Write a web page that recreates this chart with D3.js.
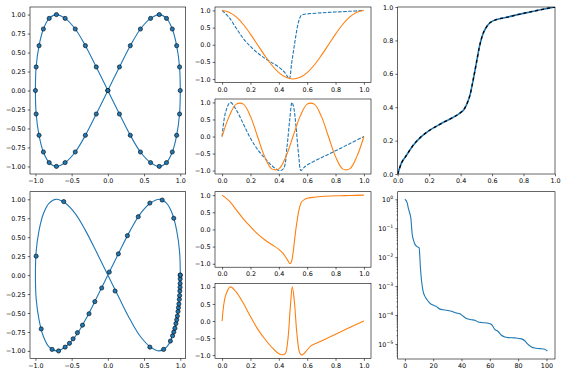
<!DOCTYPE html>
<meta charset="utf-8">
<head>
<style>
body { margin: 0; background: #fff; }
</style>
</head>
<script src="https://d3js.org/d3.v7.min.js"></script>
<div id="chart"></div>
<script>

// ---- data ----

// figure eight, 40 samples (top-left, also the curve under bottom-left)
var lemX = [1, .99, .95, .89, .81, .71, .59, .45, .31, .16, 0, -.16, -.31, -.45, -.59, -.71, -.81, -.89, -.95, -.99,
            -1, -.99, -.95, -.89, -.81, -.71, -.59, -.45, -.31, -.16, 0, .16, .31, .45, .59, .71, .81, .89, .95, .99];
var lemY = [0, .31, .59, .81, .95, 1, .95, .81, .59, .31, 0, -.31, -.59, -.81, -.95, -1, -.95, -.81, -.59, -.31,
            0, .31, .59, .81, .95, 1, .95, .81, .59, .31, 0, -.31, -.59, -.81, -.95, -1, -.95, -.81, -.59, -.31];

// points of the warped curve (bottom-left)
var warpX = [1, .91, .75, .58, .42, .27, .145, .02, -.085, -.18, -.26, -.35, -.42, -.48, -.53, -.59, -.68, -.77, -.92, -.99,
             -.61, .10, .58, .77, .864, .894, .911, .926, .940, .951, .960, .969, .975, .981, .987, .991, .994, .997, .998, .999, 1];
var warpY = [0, .75, .99, .95, .77, .52, .28, .04, -.17, -.35, -.51, -.66, -.76, -.84, -.90, -.95, -1.0, -.98, -.71, .25,
             .97, -.21, -.95, -.98, -.87, -.80, -.75, -.70, -.64, -.59, -.54, -.48, -.43, -.38, -.32, -.27, -.21, -.16, -.11, -.05, 0];

// reference coordinates (orange, top middle)
var tRef = [0, .05, .1, .15, .2, .25, .3, .35, .4, .45, .5, .55, .6, .65, .7, .75, .8, .85, .9, .95, 1];
var refX = [1, .95, .81, .59, .31, 0, -.31, -.59, -.81, -.95, -1, -.95, -.81, -.59, -.31, 0, .31, .59, .81, .95, 1];
var refY = [0, .59, .95, .95, .59, 0, -.59, -.95, -.95, -.59, 0, .59, .95, .95, .59, 0, -.59, -.95, -.95, -.59, 0];

// target coordinates (blue dashed, top middle)
var tTgtX = [0, .05, .1, .15, .2, .25, .3, .35, .4, .44, .46, .474, .49, .5, .51, .52, .53, .54, .55, .56, .58, .6, .7, .8, .9, 1];
var tgtX  = [1, .79, .48, .18, -.05, -.24, -.39, -.52, -.65, -.80, -.92, -.99, -.55, -.28, 0, .26, .50, .68, .80, .86, .89, .90, .93, .955, .975, 1];
var tTgtY = [0, .025, .058, .1, .15, .2, .25, .3, .35, .38, .41, .435, .458, .477, .493, .505, .52, .54, .556, .575, .603, .7, .8, .9, 1];
var tgtY  = [0, .72, 1.0, .78, .37, -.05, -.38, -.63, -.85, -.95, -1.0, -.93, -.29, .50, 1.0, .85, .35, -.55, -1.0, -.92, -.83, -.62, -.42, -.21, 0];

// fitted coordinates (orange, bottom middle)
var tFitX = [0, .05, .1, .15, .2, .25, .3, .35, .4, .43, .46, .48, .49, .5, .51, .52, .53, .54, .56, .58, .6, .65, .7, .8, .9, 1];
var fitX  = [1, .83, .57, .31, .08, -.13, -.30, -.44, -.58, -.70, -.88, -1.0, -.93, -.70, -.35, 0, .28, .53, .80, .87, .91, .94, .96, .98, .99, 1];
var tFitY = [0, .025, .058, .1, .15, .2, .25, .3, .35, .39, .42, .445, .463, .481, .495, .509, .528, .547, .563, .59, .626, .7, .8, .9, 1];
var fitY  = [0, .75, 1.0, .85, .52, .13, -.23, -.52, -.77, -.93, -.99, -.96, -.58, .40, 1.0, .60, -.39, -.93, -1.0, -.90, -.73, -.59, -.39, -.19, 0];

// warping function (top right)
var tWarp = [0, .025, .05, .1, .15, .2, .25, .3, .35, .4, .42, .44, .46, .48, .5, .52, .54, .56, .58, .6, .7, .8, .9, 1];
var warp  = [0, .068, .104, .174, .224, .26, .288, .314, .338, .368, .385, .42, .474, .564, .664, .764, .834, .874, .90, .914, .94, .962, .982, 1];

// loss per iteration (bottom right)
var lossIt  = [0, 1.6, 2.4, 3.3, 4.2, 5.2, 6.3, 7.5, 9.4, 10.1, 11, 11.8, 12.9, 14.1, 15.3, 16.5, 18.1, 20, 22.4, 24.7, 28.2, 32.9, 36.5, 38.8,
               41.2, 43.5, 47.1, 49.4, 51.8, 54.1, 58.8, 61.2, 63.5, 65.9, 68.2, 70.6, 72.9, 77.6, 82.4, 84.7, 86.6, 89.4, 91.8, 95.3, 98.8, 100.7];
var lossVal = [1, .77, .51, .35, .23, .062, .036, .026, .022, .021, .0043, .0015, 6.6e-4, 4.5e-4, 3.6e-4, 3e-4, 2.45e-4, 2.2e-4, 1.95e-4, 1.6e-4,
               1.5e-4, 1.35e-4, 1.17e-4, 1.1e-4, 9.1e-5, 7.6e-5, 6.9e-5, 6.6e-5, 5.75e-5, 5.5e-5, 5.2e-5, 4.7e-5, 3.2e-5, 2.7e-5, 2.0e-5,
               1.74e-5, 1.66e-5, 1.62e-5, 1.5e-5, 1.29e-5, 1.0e-5, 7.9e-6, 7.2e-6, 6.9e-6, 6.6e-6, 5.6e-6];

var eightTicks = [-1, -.5, 0, .5, 1];
var eightYTicks = [-1, -.75, -.5, -.25, 0, .25, .5, .75, 1];
var unitTicks = [0, .2, .4, .6, .8, 1];
var halfTicks = [-1, -.5, 0, .5, 1];
var iterTicks = [0, 20, 40, 60, 80, 100];
var decadeTicks = [1, 1e-1, 1e-2, 1e-3, 1e-4, 1e-5];

// ---- drawing ----
var blue = "#1f77b4", orange = "#ff7f0e";
var svg = d3.select("#chart").append("svg").attr("width", 565).attr("height", 375);
var clipN = 0;

function makePanel(b, x, y, xt, xf, yt, yf) {
  var id = "clip" + (clipN++);
  svg.append("clipPath").attr("id", id).append("rect")
    .attr("x", b.x0).attr("y", b.y0).attr("width", b.x1 - b.x0).attr("height", b.y1 - b.y0);
  var plot = svg.append("g").attr("clip-path", "url(#" + id + ")");
  var ax = svg.append("g");
  ax.append("g").attr("transform", "translate(0," + b.y1 + ")")
    .call(d3.axisBottom(x).tickValues(xt).tickFormat(xf).tickSize(2.3).tickPadding(2.2));
  var yAx = ax.append("g").attr("transform", "translate(" + b.x0 + ",0)")
    .call(d3.axisLeft(y).tickValues(yt).tickFormat(yf).tickSize(2.3).tickPadding(2.2));
  ax.selectAll("g").attr("font-family", "DejaVu Sans").attr("font-size", 6.4);
  ax.selectAll(".domain").remove();
  ax.selectAll(".tick line").attr("stroke", "#000").attr("stroke-width", 0.6);
  ax.selectAll(".tick text").attr("fill", "#000");
  ax.append("rect").attr("x", b.x0).attr("y", b.y0)
    .attr("width", b.x1 - b.x0).attr("height", b.y1 - b.y0)
    .attr("fill", "none").attr("stroke", "#000").attr("stroke-width", 0.6);
  return {plot: plot, yAx: yAx};
}

function drawLine(p, x, y, ts, vs, color, dash, width, curve) {
  p.append("path")
    .datum(ts.map(function(t, i) { return [t, vs[i]]; }))
    .attr("fill", "none").attr("stroke", color).attr("stroke-width", width || 1.1)
    .attr("stroke-dasharray", dash || null)
    .attr("d", d3.line().x(function(d) { return x(d[0]); }).y(function(d) { return y(d[1]); })
      .curve(curve || d3.curveCatmullRom));
}

function drawEight(p, x, y) {
  p.append("path")
    .datum(lemX.map(function(v, i) { return [v, lemY[i]]; }))
    .attr("fill", "none").attr("stroke", blue).attr("stroke-width", 1.1)
    .attr("d", d3.line().x(function(d) { return x(d[0]); }).y(function(d) { return y(d[1]); })
      .curve(d3.curveCatmullRomClosed));
}

function drawDots(p, x, y, xs, ys) {
  p.selectAll(null).data(xs).enter().append("circle")
    .attr("cx", function(d) { return x(d); })
    .attr("cy", function(d, i) { return y(ys[i]); })
    .attr("r", 2.1).attr("fill", blue).attr("stroke", "#000").attr("stroke-width", 0.6);
}

var fmt1 = d3.format(".1f"), fmt2 = d3.format(".2f");

// left column
var boxTL = {x0: 30, x1: 185.7, y0: 7, y1: 174};
var boxBL = {x0: 30, x1: 185.7, y0: 191.7, y1: 358.5};
[[boxTL, lemX, lemY], [boxBL, warpX, warpY]].forEach(function(c) {
  var b = c[0];
  var x = d3.scaleLinear().domain([-1.075, 1.075]).range([b.x0, b.x1]);
  var y = d3.scaleLinear().domain([-1.1, 1.1]).range([b.y1, b.y0]);
  var p = makePanel(b, x, y, eightTicks, fmt1, eightYTicks, fmt2).plot;
  drawEight(p, x, y);
  drawDots(p, x, y, c[1], c[2]);
});

// middle column
var mid = [
  {b: {x0: 215, x1: 371, y0: 7, y1: 82.5}, lines: [[tTgtX, tgtX, blue, "3.6,1.5"], [tRef, refX, orange]]},
  {b: {x0: 215, x1: 371, y0: 99, y1: 174}, lines: [[tTgtY, tgtY, blue, "3.6,1.5"], [tRef, refY, orange]]},
  {b: {x0: 215, x1: 371, y0: 191.7, y1: 267.2}, lines: [[tFitX, fitX, orange]]},
  {b: {x0: 215, x1: 371, y0: 283.5, y1: 358.5}, lines: [[tFitY, fitY, orange]]}
];
mid.forEach(function(m) {
  var x = d3.scaleLinear().domain([-0.05, 1.05]).range([m.b.x0, m.b.x1]);
  var y = d3.scaleLinear().domain([-1.1, 1.1]).range([m.b.y1, m.b.y0]);
  var p = makePanel(m.b, x, y, unitTicks, fmt1, halfTicks, fmt1).plot;
  m.lines.forEach(function(l) { drawLine(p, x, y, l[0], l[1], l[2], l[3]); });
});

// warp (top right): blue solid with black dashes over it
var boxTR = {x0: 397.7, x1: 555, y0: 7, y1: 174};
var xW = d3.scaleLinear().domain([0, 1]).range([boxTR.x0, boxTR.x1]);
var yW = d3.scaleLinear().domain([0, 1]).range([boxTR.y1, boxTR.y0]);
var pW = makePanel(boxTR, xW, yW, unitTicks, fmt1, unitTicks, fmt1).plot;
drawLine(pW, xW, yW, tWarp, warp, blue, null, 1.6, d3.curveMonotoneX);
drawLine(pW, xW, yW, tWarp, warp, "#000", "3,3", 1.3, d3.curveMonotoneX);

// loss (bottom right)
var boxBR = {x0: 397.7, x1: 555, y0: 191.7, y1: 359};
var xL = d3.scaleLinear().domain([-5.05, 106.05]).range([boxBR.x0, boxBR.x1]);
var yL = d3.scaleLog().domain([Math.pow(10, -5.52), Math.pow(10, 0.263)]).range([boxBR.y1, boxBR.y0]);
var pan = makePanel(boxBR, xL, yL, iterTicks, d3.format("d"), decadeTicks, function() { return ""; });
drawLine(pan.plot, xL, yL, lossIt, lossVal, blue, null, 1.1, d3.curveMonotoneX);
pan.yAx.selectAll(".tick text").each(function(d) {
  var e = Math.round(Math.log10(d));
  var t = d3.select(this).text("10");
  t.append("tspan").attr("dy", "-0.55em").attr("font-size", 4.6).text(e < 0 ? "\u2212" + (-e) : e);
});
var minor = [];
for (var k = -6; k <= 0; k++) {
  for (var m = 2; m <= 9; m++) {
    var v = m * Math.pow(10, k);
    if (v > yL.domain()[0] && v < yL.domain()[1]) minor.push(v);
  }
}
var mAx = svg.append("g").attr("transform", "translate(" + boxBR.x0 + ",0)")
  .call(d3.axisLeft(yL).tickValues(minor).tickFormat(function() { return ""; }).tickSize(1.3));
mAx.select(".domain").remove();
mAx.selectAll(".tick line").attr("stroke", "#000").attr("stroke-width", 0.45);

</script>
